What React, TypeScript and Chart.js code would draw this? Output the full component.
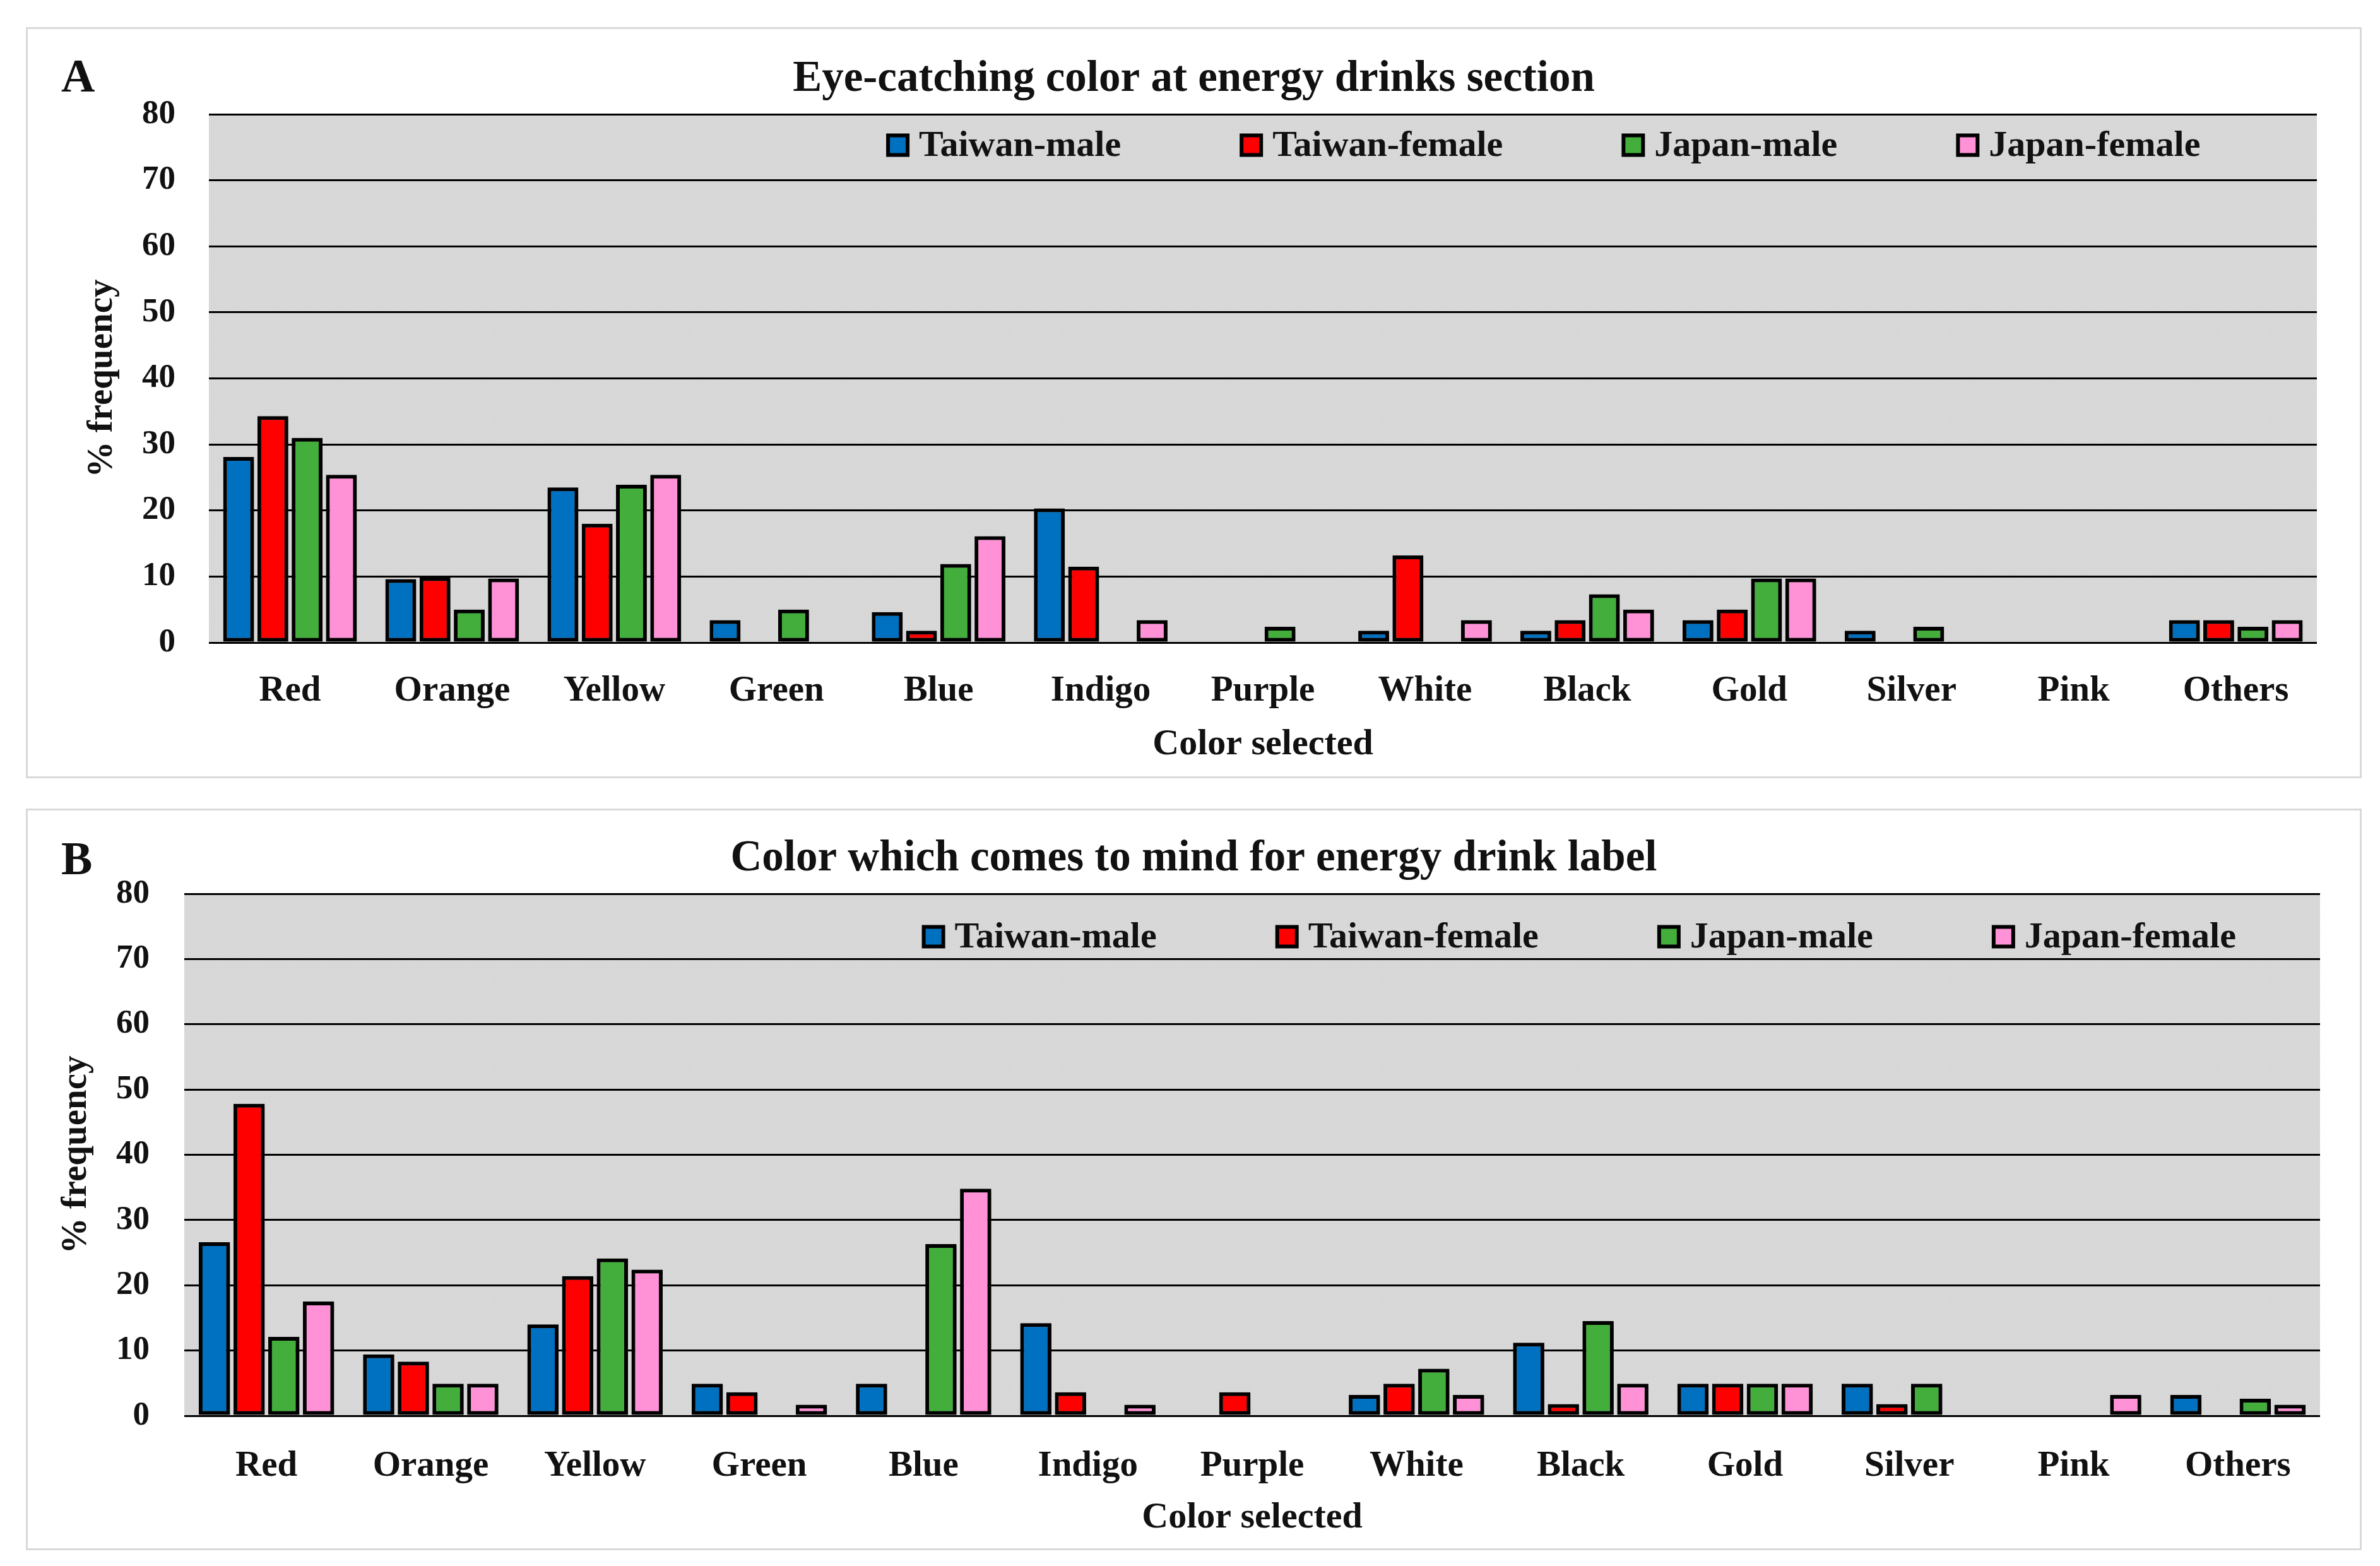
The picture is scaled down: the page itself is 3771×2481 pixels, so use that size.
import React, { useEffect, useRef } from 'react';
import { Chart, registerables } from 'chart.js';

Chart.register(...registerables);

// ---------------- DATA ----------------
const categories = ['Red', 'Orange', 'Yellow', 'Green', 'Blue', 'Indigo', 'Purple', 'White', 'Black', 'Gold', 'Silver', 'Pink', 'Others'];
const seriesNames = ['Taiwan-male', 'Taiwan-female', 'Japan-male', 'Japan-female'];
const seriesColors = ['#0070C0', '#FF0000', '#43AE3C', '#FF91D7'];
const yAxisMin = 0;
const yAxisMax = 80;
const yAxisStep = 10;

const titleA = 'Eye-catching color at energy drinks section';
const titleB = 'Color which comes to mind for energy drink label';
const xAxisTitle = 'Color selected';
const yAxisTitle = '% frequency';

// Panel A: eye-catching colour
const eyeTaiwanMale = [28.1, 9.6, 23.5, 3.4, 4.6, 20.3, 0, 1.8, 1.8, 3.4, 1.8, 0, 3.4];
const eyeTaiwanFemale = [34.3, 9.9, 18.0, 0, 1.8, 11.5, 0, 13.2, 3.4, 5.0, 0, 0, 3.4];
const eyeJapanMale = [31.0, 5.0, 23.9, 5.0, 11.9, 0, 2.4, 0, 7.3, 9.7, 2.4, 0, 2.4];
const eyeJapanFemale = [25.4, 9.7, 25.4, 0, 16.1, 3.4, 0, 3.4, 5.0, 9.7, 0, 0, 3.4];

// Panel B: colour that comes to mind for label
const labelTaiwanMale = [26.6, 9.4, 14.0, 4.9, 4.9, 14.2, 0, 3.2, 11.2, 4.9, 4.9, 0, 3.2];
const labelTaiwanFemale = [47.8, 8.3, 21.4, 3.6, 0, 3.6, 3.6, 4.9, 1.8, 4.9, 1.8, 0, 0];
const labelJapanMale = [12.1, 4.9, 24.1, 0, 26.3, 0, 0, 7.2, 14.5, 4.9, 4.9, 0, 2.6];
const labelJapanFemale = [17.5, 4.9, 22.4, 1.7, 34.8, 1.7, 0, 3.2, 4.9, 4.9, 0, 3.2, 1.7];

// ---------------- STYLE ----------------
const FONT = "'Liberation Serif', 'Times New Roman', serif";
const TEXT = '#111111';

let patternCache: CanvasPattern | null = null;
function getPattern(ctx: CanvasRenderingContext2D) {
  if (patternCache) return patternCache;
  const c = document.createElement('canvas');
  c.width = 3;
  c.height = 3;
  const p = c.getContext('2d')!;
  p.fillStyle = '#d6d6d6';
  p.fillRect(0, 0, 3, 3);
  p.fillStyle = '#e4e4e4';
  p.fillRect(1, 1, 1, 1);
  patternCache = ctx.createPattern(c, 'repeat');
  return patternCache!;
}

const panelDecor = {
  id: 'panelDecor',
  beforeDraw(chart: any) {
    const { ctx, chartArea: a } = chart;
    ctx.save();
    ctx.fillStyle = getPattern(ctx);
    ctx.fillRect(a.left, a.top, a.width, a.height);
    ctx.restore();
  },
  beforeDatasetsDraw(chart: any) {
    const { ctx } = chart;
    ctx.save();
    ctx.shadowColor = 'rgba(0,0,0,0.45)';
    ctx.shadowBlur = 6;
    ctx.shadowOffsetX = 4;
    ctx.shadowOffsetY = 3;
  },
  afterDatasetsDraw(chart: any) {
    chart.ctx.restore();
  },
  afterDraw(chart: any, _args: any, opts: any) {
    const { ctx, chartArea: a } = chart;
    ctx.save();
    // panel letter
    ctx.fillStyle = TEXT;
    ctx.font = `bold ${opts.letterSize}px ${FONT}`;
    ctx.textAlign = 'left';
    ctx.textBaseline = 'middle';
    ctx.fillText(opts.letter, opts.letterX, opts.letterY);

    // legend inside plot area
    const ds = chart.data.datasets;
    ctx.font = `bold ${opts.legendFont}px ${FONT}`;
    const box = opts.boxSize;
    const widths = ds.map((d: any) => box + opts.boxGap + ctx.measureText(d.label).width);
    const total = widths.reduce((s: number, w: number) => s + w, 0) + opts.itemGap * (ds.length - 1);
    let x = a.left + a.width * opts.legendCenter - total / 2;
    const y = a.top + opts.legendOffset;
    ds.forEach((d: any, i: number) => {
      ctx.fillStyle = '#000';
      ctx.fillRect(x, y - box / 2, box, box);
      ctx.fillStyle = d.backgroundColor;
      ctx.fillRect(x + 6, y - box / 2 + 6, box - 12, box - 12);
      ctx.fillStyle = TEXT;
      ctx.textAlign = 'left';
      ctx.textBaseline = 'middle';
      ctx.fillText(d.label, x + box + opts.boxGap, y + 2);
      x += widths[i] + opts.itemGap;
    });
    ctx.restore();
  },
};

type PanelCfg = {
  left: number; top: number; width: number; height: number;
  title: string; letter: string; series: number[][];
  titlePadTop: number; titlePadBottom: number; padRight: number;
  yWidth: number; yTickPad: number; yTitlePad: number;
  xHeight: number; xTickPad: number; xTitlePadBottom: number;
  legendOffset: number; legendCenter: number; letterY: number;
};

function buildConfig(cfg: PanelCfg): any {
  return {
    type: 'bar',
    data: {
      labels: categories,
      datasets: seriesNames.map((name, i) => ({
        label: name,
        data: cfg.series[i],
        backgroundColor: seriesColors[i],
        borderColor: '#000000',
        borderWidth: 6,
        borderSkipped: false,
        categoryPercentage: 0.845,
        barPercentage: 0.9,
      })),
    },
    options: {
      responsive: false,
      devicePixelRatio: 1,
      animation: false,
      layout: { padding: 0 },
      plugins: {
        legend: { display: false },
        tooltip: { enabled: false },
        title: {
          display: true,
          text: cfg.title,
          color: TEXT,
          font: { family: FONT, size: 69, weight: 'bold', lineHeight: 1.2 },
          padding: { top: cfg.titlePadTop, bottom: cfg.titlePadBottom },
        },
        panelDecor: {
          letter: cfg.letter,
          letterSize: 74,
          letterX: 56,
          letterY: cfg.letterY,
          legendFont: 58,
          boxSize: 37,
          boxGap: 15,
          itemGap: 188,
          legendOffset: cfg.legendOffset,
          legendCenter: cfg.legendCenter,
        },
      },
      scales: {
        x: {
          grid: { display: false, drawTicks: false },
          border: { display: false },
          ticks: {
            color: TEXT,
            padding: cfg.xTickPad,
            font: { family: FONT, size: 57, weight: 'bold', lineHeight: 1.2 },
          },
          title: {
            display: true,
            text: xAxisTitle,
            color: TEXT,
            font: { family: FONT, size: 58, weight: 'bold', lineHeight: 1.2 },
            padding: { top: 0, bottom: cfg.xTitlePadBottom },
          },
          afterFit: (s: any) => { s.height = cfg.xHeight; },
        },
        y: {
          min: yAxisMin,
          max: yAxisMax,
          grid: { color: '#000000', lineWidth: 3, drawTicks: false },
          border: { display: false },
          ticks: {
            stepSize: yAxisStep,
            color: TEXT,
            padding: cfg.yTickPad,
            font: { family: FONT, size: 53, weight: 'bold', lineHeight: 1.2 },
          },
          title: {
            display: true,
            text: yAxisTitle,
            color: TEXT,
            font: { family: FONT, size: 57, weight: 'bold', lineHeight: 1.2 },
            padding: { top: cfg.yTitlePad, bottom: 0 },
          },
          afterFit: (s: any) => { s.width = cfg.yWidth; },
        },
        yRight: {
          position: 'right',
          display: true,
          grid: { display: false, drawTicks: false },
          border: { display: false },
          ticks: { display: false },
          afterFit: (s: any) => { s.width = cfg.padRight; },
        },
      },
    },
    plugins: [panelDecor],
  };
}

const panelA: PanelCfg = {
  left: 41, top: 43, width: 3701, height: 1190,
  title: titleA, letter: 'A',
  series: [eyeTaiwanMale, eyeTaiwanFemale, eyeJapanMale, eyeJapanFemale],
  titlePadTop: 41.6, titlePadBottom: 13.6, padRight: 71,
  yWidth: 290, yTickPad: 53, yTitlePad: 86.8,
  xHeight: 215, xTickPad: 42.8, xTitlePadBottom: 18.2,
  legendOffset: 49, legendCenter: 0.633, letterY: 83,
};

const panelB: PanelCfg = {
  left: 41, top: 1281, width: 3701, height: 1175,
  title: titleB, letter: 'B',
  series: [labelTaiwanMale, labelTaiwanFemale, labelJapanMale, labelJapanFemale],
  titlePadTop: 38.6, titlePadBottom: 13.6, padRight: 66,
  yWidth: 251, yTickPad: 55, yTitlePad: 45.8,
  xHeight: 213, xTickPad: 45.8, xTitlePadBottom: 16.2,
  legendOffset: 68, legendCenter: 0.653, letterY: 85,
};

function Panel({ cfg }: { cfg: PanelCfg }) {
  const ref = useRef<HTMLCanvasElement>(null);
  useEffect(() => {
    if (!ref.current) return;
    const chart = new Chart(ref.current, buildConfig(cfg));
    return () => chart.destroy();
  }, [cfg]);
  return (
    <div style={{ position: 'absolute', left: cfg.left, top: cfg.top, width: cfg.width, height: cfg.height }}>
      <canvas
        ref={ref}
        width={cfg.width}
        height={cfg.height}
        style={{ display: 'block', width: cfg.width, height: cfg.height }}
      />
      <div style={{ position: 'absolute', left: 0, top: 0, right: 0, bottom: 0, border: '3px solid #d9d9d9', pointerEvents: 'none' }} />
    </div>
  );
}

export default function App() {
  return (
    <div style={{ position: 'absolute', left: 0, top: 0, width: 3771, height: 2481, background: '#ffffff', overflow: 'hidden' }}>
      <Panel cfg={panelA} />
      <Panel cfg={panelB} />
    </div>
  );
}
